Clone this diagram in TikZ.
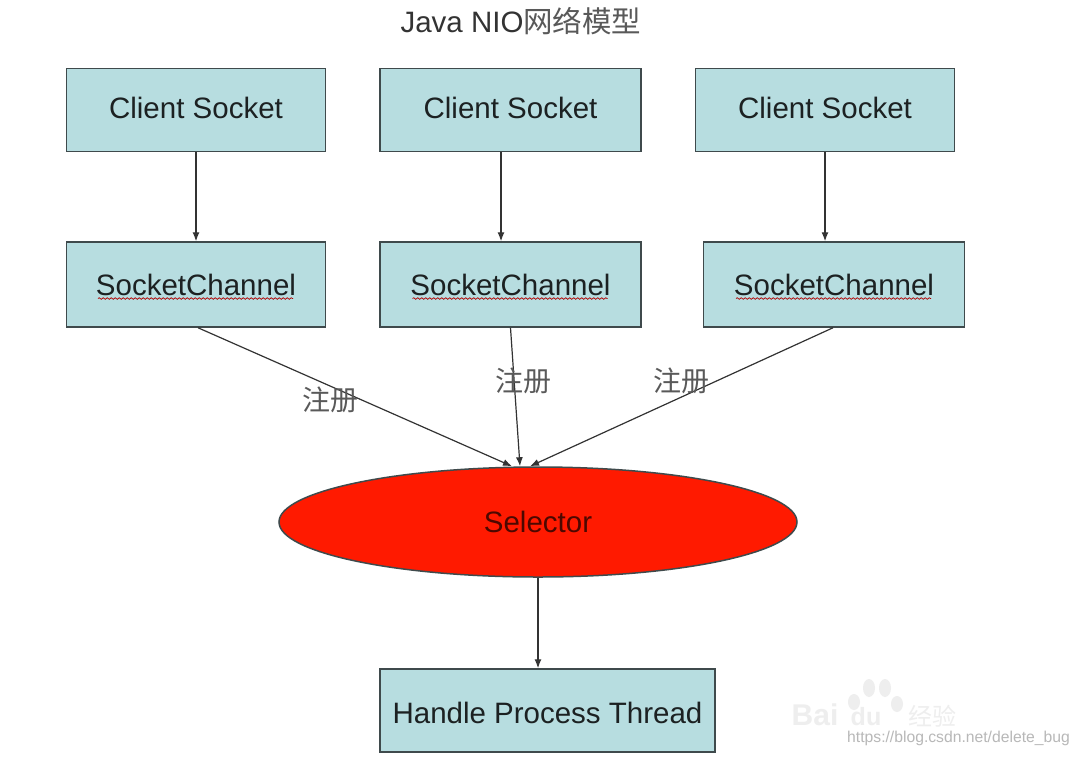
\documentclass[tikz,border=0pt]{standalone}
\usepackage{fontspec}
\setmainfont{Liberation Sans}
\newfontfamily\cjk{Noto Sans CJK SC}
\usetikzlibrary{shapes.geometric,arrows.meta,decorations.pathmorphing}
\definecolor{boxfill}{HTML}{B7DDE0}
\definecolor{boxline}{HTML}{3F4A4C}
\definecolor{selred}{HTML}{FF1A00}
\definecolor{wm}{HTML}{EEEEEE}
\tikzset{
  x=1pt,y=-1pt,
  plainbox/.style={draw=boxline,line width=1.5pt,fill=boxfill,minimum width=#1,minimum height=83pt,
    inner sep=0pt,font=\fontsize{29.5}{29.5}\selectfont,text=black!85!boxfill},
  sockbox/.style={plainbox=#1,text height=21pt,text depth=4pt},
  chanbox/.style={plainbox=#1,minimum height=85pt},
  procbox/.style={plainbox=#1,text height=25pt,text depth=0pt},
  link/.style={draw=black!80,line width=1.2pt,-{Latex[length=9pt,width=7pt]}},
  reg/.style={font=\cjk\fontsize{28}{28}\selectfont,text=black!65,inner sep=0pt},
  squiggle/.style={draw=red!70!black,line width=0.7pt,decorate,
    decoration={snake,amplitude=0.8pt,segment length=4pt}}
}
\newcommand{\wavy}[1]{\draw[squiggle] ([xshift=-98pt,yshift=-14pt]#1.center) -- ([xshift=97pt,yshift=-14pt]#1.center);}
\begin{document}
\begin{tikzpicture}
\useasboundingbox (0,0) rectangle (1079,756);
\fill[white] (0,0) rectangle (1079,756);

% image-host watermark, under the diagram
\foreach \px/\py/\rx/\ry in {854/702/6/8,869/688/6/9,885/688/6/9,897/704/6/8}
  \fill[wm] (\px,\py) ellipse [x radius=\rx,y radius=\ry];
\node[inner sep=0pt,font=\bfseries\fontsize{30}{30}\selectfont,text=wm] (wb) at (815,715) {Bai};
\node[inner sep=0pt,font=\bfseries\fontsize{25}{25}\selectfont,text=wm] (wd) at (866,717) {du};
\node[inner sep=0pt,font=\cjk\fontsize{24}{24}\selectfont,text=wm] (wj) at (932,716) {经验};
\node[inner sep=0pt,font=\fontsize{15.7}{15.7}\selectfont,text=black!28] (url) at (958.5,738)
  {https://blog.csdn.net/delete\_bug};

% title
\node[inner sep=0pt,font=\fontsize{29.5}{29.5}\selectfont,text=black!80] (title) at (521,21)
  {Java NIO{\cjk\color{black!65}网络模型}};

% client sockets
\node[sockbox=259pt] (s1) at (196,110) {Client Socket};
\node[sockbox=261pt] (s2) at (510.5,110) {Client Socket};
\node[sockbox=259pt] (s3) at (825,110) {Client Socket};

% channels
\node[chanbox=259pt] (c1) at (196,284.5) {SocketChannel};
\node[chanbox=261pt] (c2) at (510.5,284.5) {SocketChannel};
\node[chanbox=261pt] (c3) at (834,284.5) {SocketChannel};
\wavy{c1}\wavy{c2}\wavy{c3}

% selector and worker thread
\node[ellipse,draw=boxline,line width=1.5pt,fill=selred,minimum width=518pt,minimum height=110pt,
  inner sep=0pt,font=\fontsize{29.5}{29.5}\selectfont,text=black!70!selred] (sel) at (538,522) {Selector};
\node[procbox=335pt] (hp) at (547.5,710.5) {Handle Process Thread};

% connectors
\draw[link] (s1.south) -- (c1.north);
\draw[link] ([xshift=-9.5pt]s2.south) -- ([xshift=-9.5pt]c2.north);
\draw[link] (s3.south) -- ([xshift=-9pt]c3.north);
\draw[link] ([xshift=2pt]c1.south) -- ([xshift=-26pt]sel.north);
\draw[link] (c2.south) -- ([xshift=-18pt]sel.north);
\draw[link] ([xshift=-1pt]c3.south) -- ([xshift=-8pt]sel.north);
\draw[link] (sel.south) -- ([xshift=-9.5pt]hp.north);

% edge labels
\node[reg] (r1) at (330,400) {注册};
\node[reg] (r2) at (523,381) {注册};
\node[reg] (r3) at (681,381) {注册};
\end{tikzpicture}
\end{document}
